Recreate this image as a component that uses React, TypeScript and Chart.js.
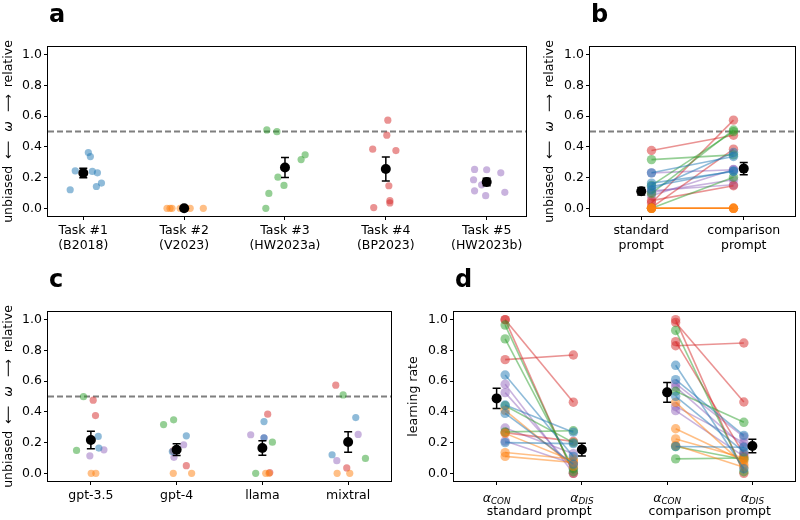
import { useEffect, useRef } from 'react';
import { Chart, registerables } from 'chart.js';

Chart.register(...registerables);

const FONT = '"DejaVu Sans", "Liberation Sans", sans-serif';
const TAB = ['#1f77b4', '#ff7f0e', '#2ca02c', '#d62728', '#9467bd'];

// ---------- labels ----------
const taskNames = ['Task #1', 'Task #2', 'Task #3', 'Task #4', 'Task #5'];
const taskRefs = ['(B2018)', '(V2023)', '(HW2023a)', '(BP2023)', '(HW2023b)'];
const promptNames = ['standard', 'comparison'];
const modelNames = ['gpt-3.5', 'gpt-4', 'llama', 'mixtral'];
const rateNames = ['CON', 'DIS', 'CON', 'DIS'];
const rateGroups = ['standard prompt', 'comparison prompt'];
const yTickValues = [0, 0.2, 0.4, 0.6, 0.8, 1.0];

// ---------- ω per task: one row per model, [standard prompt, comparison prompt] ----------
const omegaTask1 = [[0.164, 0.240], [0.142, 0.244], [0.231, 0.337], [0.121, 0.363]];
const omegaTask2 = [[0.0, 0.0], [0.0, 0.0], [0.0, 0.0], [0.0, 0.0]];
const omegaTask3 = [[0.149, 0.499], [0.317, 0.348], [0.0, 0.203], [0.097, 0.510]];
const omegaTask4 = [[0.376, 0.476], [0.050, 0.147], [0.005, 0.385], [0.035, 0.574]];
const omegaTask5 = [[0.114, 0.153], [0.104, 0.186], [0.231, 0.251], [0.082, 0.253]];
const omegaByTask = [omegaTask1, omegaTask2, omegaTask3, omegaTask4, omegaTask5];

// strip-plot jitter (category units), per task, ordered model × prompt
const jitterByTask = [
  [0.18, 0.09, 0.13, -0.08, 0.14, 0.07, -0.13, 0.05],
  [-0.17, -0.14, -0.12, -0.04, 0.0, 0.02, 0.06, 0.19],
  [-0.01, -0.08, 0.16, 0.2, -0.19, -0.07, -0.16, -0.18],
  [0.1, 0.01, 0.04, 0.03, -0.12, -0.13, 0.04, 0.02],
  [-0.12, -0.05, 0.18, -0.13, 0.14, 0.0, -0.01, -0.12],
];
// strip-plot jitter (category units), per model, ordered task × prompt
const jitterByModel = [
  [0.093, 0.086, 0.004, 0.058, -0.167, -0.086, 0.054, 0.027, -0.012, 0.152],
  [-0.05, 0.113, -0.039, 0.175, -0.152, -0.035, 0.113, -0.04, -0.031, 0.082],
  [0.019, 0.019, 0.039, 0.078, -0.078, 0.117, 0.086, 0.062, 0.019, -0.136],
  [-0.187, 0.089, -0.128, 0.019, 0.202, -0.058, -0.016, -0.144, -0.132, 0.117],
];

// ---------- learning rates per task (4 models each) ----------
const lrStandardCon = [
  [0.64, 0.445, 0.39, 0.2],
  [0.41, 0.26, 0.135, 0.11],
  [0.965, 0.875, 0.44, 0.27],
  [1.0, 1.0, 0.74, 0.265],
  [0.58, 0.525, 0.295, 0.21],
];
const lrStandardDis = [
  [0.11, 0.268, 0.06, 0.193],
  [0.045, 0.08, 0.093, 0.07],
  [0.01, 0.03, 0.2, 0.277],
  [0.0, 0.463, 0.77, 0.208],
  [0.0, 0.03, 0.128, 0.06],
];
const lrComparisonCon = [
  [0.703, 0.61, 0.501, 0.175],
  [0.462, 0.29, 0.224, 0.182],
  [0.93, 0.534, 0.174, 0.094],
  [1.0, 0.982, 0.857, 0.83],
  [0.584, 0.562, 0.436, 0.408],
];
const lrComparisonDis = [
  [0.03, 0.247, 0.14, 0.17],
  [0.057, 0.08, 0.1, 0.04],
  [0.01, 0.332, 0.09, 0.1],
  [0.0, 0.464, 0.125, 0.848],
  [0.237, 0.176, 0.2, 0.11],
];

// ---------- helpers ----------
type Pt = { x: number; y: number };
// rotated axis-label piece; `width` stretches a glyph (used for the long arrows)
type Seg = { text: string; italic?: boolean; width?: number; gap?: number };
type Area = { l: number; r: number; t: number; b: number };

const rgba = (hex: string, a: number) => {
  const n = parseInt(hex.slice(1), 16);
  return `rgba(${(n >> 16) & 255},${(n >> 8) & 255},${n & 255},${a})`;
};

const meanSem = (vals: number[]) => {
  const n = vals.length;
  const m = vals.reduce((s, v) => s + v, 0) / n;
  const v = vals.reduce((s, x) => s + (x - m) * (x - m), 0) / (n - 1);
  return { mean: m, sem: Math.sqrt(v / n) };
};

const pointSet = (data: Pt[], color: string, r: number) => ({
  data,
  showLine: false,
  pointRadius: r,
  pointBorderWidth: 0,
  pointBackgroundColor: rgba(color, 0.5),
  order: 2,
});

const pairLine = (data: Pt[], color: string) => ({
  data,
  showLine: true,
  borderColor: rgba(color, 0.5),
  borderWidth: 1.6,
  pointRadius: 4.7,
  pointBorderWidth: 0,
  pointBackgroundColor: rgba(color, 0.5),
  order: 3,
});

const meanSet = (data: Pt[]) => ({
  data,
  showLine: false,
  pointRadius: 5,
  pointBorderWidth: 0,
  pointBackgroundColor: '#000',
  order: 0,
});

const refLine = (x0: number, x1: number) => ({
  data: [{ x: x0, y: 0.5 }, { x: x1, y: 0.5 }],
  showLine: true,
  borderColor: '#7f7f7f',
  borderWidth: 1.8,
  borderDash: [6, 3],
  pointRadius: 0,
  order: 5,
});

// drawn bottom-to-top along the rotated axis
const omegaYLabel: Seg[] = [
  { text: 'unbiased', gap: 7 },
  { text: '⟵', width: 18, gap: 9 },
  { text: 'ω', italic: true, gap: 9 },
  { text: '⟶', width: 18, gap: 7 },
  { text: 'relative' },
];

type Spec = {
  area: Area;
  xMin: number;
  xMax: number;
  xTicks: number[];
  xLabels: (string | string[])[];
  datasets: any[];
  errors: { x: number; mean: number; sem: number }[];
  title: string;
  yLabel: Seg[];
  yLabelX: number;
  extraDraw?: (chart: any) => void;
};

const SIZE = 12.5;

function buildChart(canvas: HTMLCanvasElement, s: Spec) {
  const decor = {
    id: 'decor',
    afterDatasetsDraw(chart: any) {
      const ctx = chart.ctx;
      const xs = chart.scales.x;
      const ys = chart.scales.y;
      ctx.save();
      ctx.strokeStyle = '#000';
      ctx.lineWidth = 1.5;
      s.errors.forEach((e) => {
        const px = xs.getPixelForValue(e.x);
        const top = ys.getPixelForValue(e.mean + e.sem);
        const bot = ys.getPixelForValue(e.mean - e.sem);
        ctx.beginPath();
        ctx.moveTo(px, top);
        ctx.lineTo(px, bot);
        ctx.moveTo(px - 4, top);
        ctx.lineTo(px + 4, top);
        ctx.moveTo(px - 4, bot);
        ctx.lineTo(px + 4, bot);
        ctx.stroke();
      });
      ctx.restore();
    },
    afterDraw(chart: any) {
      const ctx = chart.ctx;
      const ca = chart.chartArea;
      ctx.save();
      // frame
      ctx.strokeStyle = '#000';
      ctx.lineWidth = 1;
      const l = Math.round(ca.left) - 0.5;
      const t = Math.round(ca.top) - 0.5;
      const r = Math.round(ca.right) + 0.5;
      const b = Math.round(ca.bottom) + 0.5;
      ctx.strokeRect(l, t, r - l, b - t);
      // panel letter
      ctx.fillStyle = '#000';
      ctx.font = `bold 24px ${FONT}`;
      ctx.textAlign = 'left';
      ctx.textBaseline = 'alphabetic';
      ctx.fillText(s.title, Math.round(ca.left) + 1, Math.round(ca.top) - 25);
      // y axis label (rotated)
      const segFont = (g: Seg) => `${g.italic ? 'italic ' : ''}${SIZE}px ${FONT}`;
      const segW = (g: Seg) => {
        ctx.font = segFont(g);
        return g.width ?? ctx.measureText(g.text).width;
      };
      let total = 0;
      s.yLabel.forEach((g) => {
        total += segW(g) + (g.gap ?? 0);
      });
      ctx.translate(s.yLabelX, (ca.top + ca.bottom) / 2);
      ctx.rotate(-Math.PI / 2);
      ctx.textBaseline = 'middle';
      let cx = -total / 2;
      s.yLabel.forEach((g) => {
        const w = segW(g);
        ctx.font = segFont(g);
        if (g.width) {
          const natural = ctx.measureText(g.text).width;
          ctx.save();
          ctx.translate(cx, 0);
          ctx.scale(w / natural, 1);
          ctx.fillText(g.text, 0, 0);
          ctx.restore();
        } else {
          ctx.fillText(g.text, cx, 0);
        }
        cx += w + (g.gap ?? 0);
      });
      ctx.restore();
      if (s.extraDraw) s.extraDraw(chart);
    },
  };

  const tickFont = { family: FONT, size: SIZE };
  const gridOpts = { display: true, drawOnChartArea: false, drawTicks: true, tickLength: 4, color: '#000', lineWidth: 1 };

  return new Chart(canvas, {
    type: 'scatter',
    data: { datasets: s.datasets },
    options: {
      animation: false,
      responsive: false,
      events: [],
      layout: { padding: { left: 0, top: s.area.t, right: 800 - s.area.r, bottom: 0 } },
      plugins: { legend: { display: false }, tooltip: { enabled: false } },
      scales: {
        x: {
          type: 'linear',
          min: s.xMin,
          max: s.xMax,
          afterBuildTicks: (sc: any) => {
            sc.ticks = s.xTicks.map((v) => ({ value: v }));
          },
          afterFit: (sc: any) => {
            sc.height = 520 - s.area.b;
          },
          grid: gridOpts,
          border: { display: false },
          ticks: {
            autoSkip: false,
            maxRotation: 0,
            minRotation: 0,
            padding: 3,
            color: '#000',
            font: { ...tickFont, lineHeight: 1.2 },
            callback: (_v: any, i: number) => s.xLabels[i],
          },
        },
        y: {
          type: 'linear',
          min: -0.05,
          max: 1.05,
          afterBuildTicks: (sc: any) => {
            sc.ticks = yTickValues.map((v) => ({ value: v }));
          },
          afterFit: (sc: any) => {
            sc.width = s.area.l;
          },
          grid: gridOpts,
          border: { display: false },
          ticks: {
            padding: 2,
            color: '#000',
            font: tickFont,
            callback: (v: any) => Number(v).toFixed(1),
          },
        },
      },
    } as any,
    plugins: [decor],
  });
}

// ---------- panel specs ----------
function panelA(): Spec {
  const xMin = -0.35;
  const xMax = 4.39;
  const datasets: any[] = [];
  omegaByTask.forEach((task, t) => {
    const pts: Pt[] = [];
    task.forEach((pair, m) => pair.forEach((v, p) => pts.push({ x: t + jitterByTask[t][m * 2 + p], y: v })));
    datasets.push(pointSet(pts, TAB[t], 3.6));
  });
  const stats = omegaByTask.map((task) => meanSem(task.flat()));
  datasets.push(meanSet(stats.map((st, i) => ({ x: i, y: st.mean }))));
  datasets.push(refLine(xMin, xMax));
  return {
    area: { l: 48, r: 526, t: 47, b: 216 },
    xMin,
    xMax,
    xTicks: [0, 1, 2, 3, 4],
    xLabels: taskNames.map((n, i) => [n, taskRefs[i]]),
    datasets,
    errors: stats.map((st, i) => ({ x: i, mean: st.mean, sem: st.sem })),
    title: 'a',
    yLabel: omegaYLabel,
    yLabelX: 9,
  };
}

function panelB(): Spec {
  const datasets: any[] = [];
  omegaByTask.forEach((task, t) =>
    task.forEach((pair) => datasets.push(pairLine([{ x: 0.1, y: pair[0] }, { x: 0.9, y: pair[1] }], TAB[t])))
  );
  const std = meanSem(omegaByTask.flatMap((task) => task.map((p) => p[0])));
  const cmp = meanSem(omegaByTask.flatMap((task) => task.map((p) => p[1])));
  datasets.push(meanSet([{ x: 0, y: std.mean }, { x: 1, y: cmp.mean }]));
  datasets.push(refLine(-0.5, 1.5));
  return {
    area: { l: 590, r: 797, t: 47, b: 216 },
    xMin: -0.5,
    xMax: 1.5,
    xTicks: [0, 1],
    xLabels: promptNames.map((n) => [n, 'prompt']),
    datasets,
    errors: [
      { x: 0, mean: std.mean, sem: std.sem },
      { x: 1, mean: cmp.mean, sem: cmp.sem },
    ],
    title: 'b',
    yLabel: omegaYLabel,
    yLabelX: 550,
  };
}

function panelC(): Spec {
  const datasets: any[] = [];
  omegaByTask.forEach((task, t) => {
    const pts: Pt[] = [];
    task.forEach((pair, m) => pair.forEach((v, p) => pts.push({ x: m + jitterByModel[m][t * 2 + p], y: v })));
    datasets.push(pointSet(pts, TAB[t], 3.6));
  });
  const stats = modelNames.map((_, m) => meanSem(omegaByTask.flatMap((task) => task[m])));
  datasets.push(meanSet(stats.map((st, i) => ({ x: i, y: st.mean }))));
  datasets.push(refLine(-0.5, 3.5));
  return {
    area: { l: 48, r: 391, t: 312, b: 481 },
    xMin: -0.5,
    xMax: 3.5,
    xTicks: [0, 1, 2, 3],
    xLabels: modelNames,
    datasets,
    errors: stats.map((st, i) => ({ x: i, mean: st.mean, sem: st.sem })),
    title: 'c',
    yLabel: omegaYLabel,
    yLabelX: 9,
  };
}

function panelD(): Spec {
  const datasets: any[] = [];
  lrStandardCon.forEach((row, t) =>
    row.forEach((v, i) => datasets.push(pairLine([{ x: 0.1, y: v }, { x: 0.9, y: lrStandardDis[t][i] }], TAB[t])))
  );
  lrComparisonCon.forEach((row, t) =>
    row.forEach((v, i) => datasets.push(pairLine([{ x: 2.1, y: v }, { x: 2.9, y: lrComparisonDis[t][i] }], TAB[t])))
  );
  const stats = [lrStandardCon, lrStandardDis, lrComparisonCon, lrComparisonDis].map((g) => meanSem(g.flat()));
  datasets.push(meanSet(stats.map((st, i) => ({ x: i, y: st.mean }))));

  const extraDraw = (chart: any) => {
    const ctx = chart.ctx;
    const xs = chart.scales.x;
    ctx.save();
    ctx.fillStyle = '#000';
    ctx.textBaseline = 'alphabetic';
    [0, 1, 2, 3].forEach((tick, i) => {
      const px = xs.getPixelForValue(tick);
      ctx.font = `italic ${SIZE}px ${FONT}`;
      const wa = ctx.measureText('α').width;
      ctx.font = `italic 8.8px ${FONT}`;
      const ws = ctx.measureText(rateNames[i]).width;
      const x0 = px - (wa + ws) / 2;
      ctx.font = `italic ${SIZE}px ${FONT}`;
      ctx.textAlign = 'left';
      ctx.fillText('α', x0, 501.5);
      ctx.font = `italic 8.8px ${FONT}`;
      ctx.fillText(rateNames[i], x0 + wa, 504);
    });
    ctx.font = `${SIZE}px ${FONT}`;
    ctx.textAlign = 'center';
    rateGroups.forEach((g, k) => {
      const px = (xs.getPixelForValue(2 * k) + xs.getPixelForValue(2 * k + 1)) / 2;
      ctx.fillText(g, px, 515);
    });
    ctx.restore();
  };

  return {
    area: { l: 454, r: 798, t: 312, b: 481 },
    xMin: -0.5,
    xMax: 3.5,
    xTicks: [0, 1, 2, 3],
    xLabels: ['', '', '', ''],
    datasets,
    errors: stats.map((st, i) => ({ x: i, mean: st.mean, sem: st.sem })),
    title: 'd',
    yLabel: [{ text: 'learning rate' }],
    yLabelX: 414,
    extraDraw,
  };
}

export default function App() {
  const refA = useRef<HTMLCanvasElement>(null);
  const refB = useRef<HTMLCanvasElement>(null);
  const refC = useRef<HTMLCanvasElement>(null);
  const refD = useRef<HTMLCanvasElement>(null);

  useEffect(() => {
    const charts = [
      buildChart(refA.current!, panelA()),
      buildChart(refB.current!, panelB()),
      buildChart(refC.current!, panelC()),
      buildChart(refD.current!, panelD()),
    ];
    return () => charts.forEach((c) => c.destroy());
  }, []);

  const cv: React.CSSProperties = { position: 'absolute', left: 0, top: 0 };
  return (
    <div style={{ position: 'fixed', left: 0, top: 0, width: 800, height: 520, background: '#fff' }}>
      <canvas ref={refA} width={800} height={520} style={cv} />
      <canvas ref={refB} width={800} height={520} style={cv} />
      <canvas ref={refC} width={800} height={520} style={cv} />
      <canvas ref={refD} width={800} height={520} style={cv} />
    </div>
  );
}
